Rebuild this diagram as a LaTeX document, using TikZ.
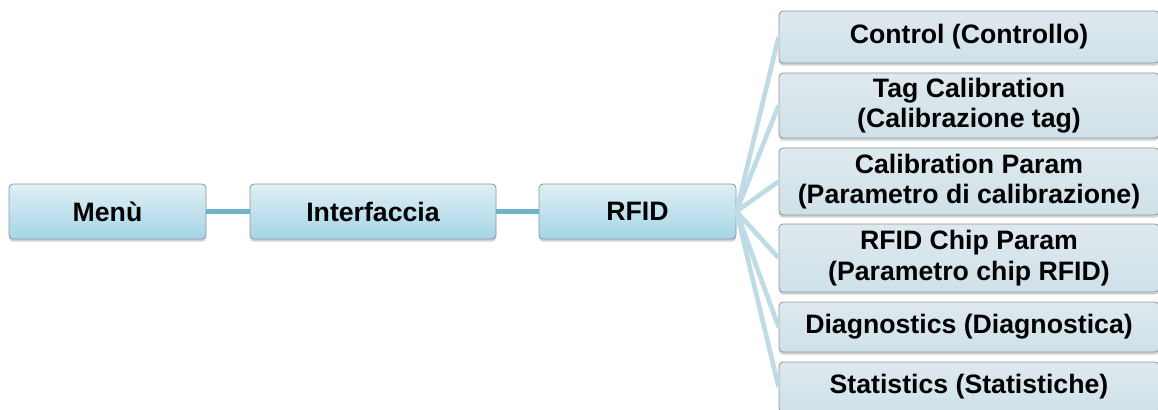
\documentclass[tikz,border=0pt]{standalone}
\usepackage{fontspec}
\setmainfont{Liberation Sans}
\usetikzlibrary{shadows}
\definecolor{BoxTop}{RGB}{224,239,245}
\definecolor{BoxBot}{RGB}{164,213,231}
\definecolor{SubTop}{RGB}{222,233,238}
\definecolor{SubBot}{RGB}{207,225,233}
\definecolor{EdgeClr}{RGB}{140,150,155}
\definecolor{LinkClr}{RGB}{112,178,204}
\definecolor{FanClr}{RGB}{190,219,230}

\tikzset{
  menubox/.style={draw=EdgeClr, line width=0.6pt, rounded corners=3pt,
    top color=BoxTop, bottom color=BoxBot, inner sep=0pt, align=center,
    font=\fontsize{20}{23}\selectfont\bfseries,
    drop shadow={opacity=0.35, shadow xshift=0pt, shadow yshift=-2pt}},
  subbox/.style={menubox, top color=SubTop, bottom color=SubBot, minimum width=285pt},
  link/.style={LinkClr, line width=3.75pt},
  fan/.style={FanClr, line width=3.5pt},
}

\begin{document}
\begin{tikzpicture}[x=0.75pt,y=-0.75pt]
\path[use as bounding box, clip] (0,0) rectangle (1158,410);

% main chain
\node[menubox, minimum width=147.75pt, minimum height=41.25pt] (menu) at (107.5,211.5) {Menù};
\node[menubox, minimum width=184.5pt, minimum height=41.25pt] (intf) at (373,211.5) {Interfaccia};
\node[menubox, minimum width=147.75pt, minimum height=41.25pt] (rfid) at (637.5,211.5) {RFID};

% RFID submenu
\node[subbox, minimum height=39pt] (ctrl) at (969,37) {Control (Controllo)};
\node[subbox, minimum height=48.75pt] (tagcal) at (969,105.5) {Tag Calibration\\(Calibrazione tag)};
\node[subbox, minimum height=50.25pt] (calpar) at (969,181.5) {Calibration Param\\(Parametro di calibrazione)};
\node[subbox, minimum height=51pt] (chippar) at (969,258) {RFID Chip Param\\(Parametro chip RFID)};
\node[subbox, minimum height=37.5pt] (diag) at (969,327) {Diagnostics (Diagnostica)};
\node[subbox, minimum height=37.5pt] (stat) at (969,387) {Statistics (Statistiche)};

\draw[link] (menu) -- (intf);
\draw[link] (intf) -- (rfid);

\draw[fan] (rfid.east) -- (ctrl.west);
\draw[fan] (rfid.east) -- (tagcal.west);
\draw[fan] (rfid.east) -- (calpar.west);
\draw[fan] (rfid.east) -- (chippar.west);
\draw[fan] (rfid.east) -- (diag.west);
\draw[fan] (rfid.east) -- (stat.west);

\end{tikzpicture}
\end{document}
